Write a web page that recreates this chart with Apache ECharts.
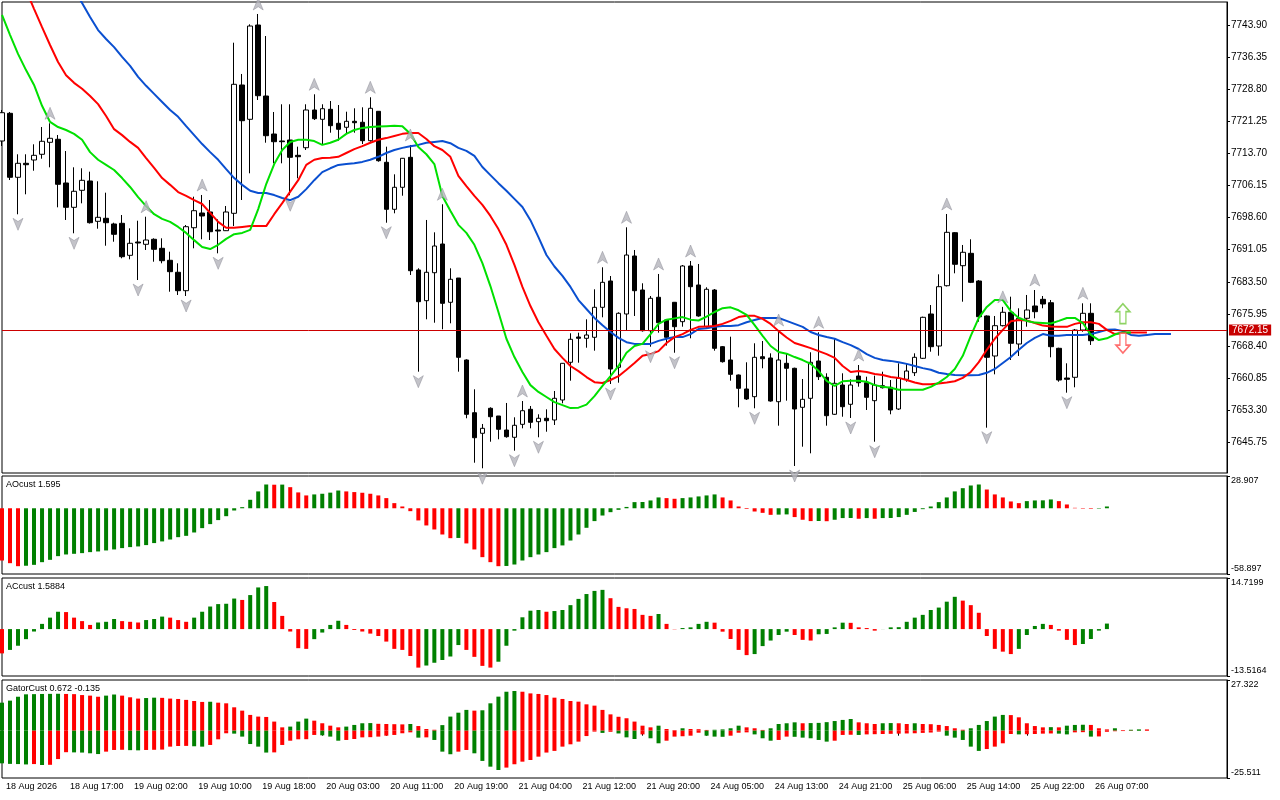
<!DOCTYPE html>
<html><head><meta charset="utf-8">
<script src="https://cdn.jsdelivr.net/npm/echarts@6/dist/echarts.min.js"></script>
<style>html,body{margin:0;padding:0;background:#fff}#c{width:1280px;height:800px}</style>
</head><body><div id="c"></div>
<script>
const timeLabels = ['18 Aug 2026','18 Aug 17:00','19 Aug 02:00','19 Aug 10:00','19 Aug 18:00','20 Aug 03:00','20 Aug 11:00','20 Aug 19:00','21 Aug 04:00','21 Aug 12:00','21 Aug 20:00','24 Aug 05:00','24 Aug 13:00','24 Aug 21:00','25 Aug 06:00','25 Aug 14:00','25 Aug 22:00','26 Aug 07:00'];
const priceTicks = [7645.75,7653.30,7660.85,7668.40,7675.95,7683.50,7691.05,7698.60,7706.15,7713.70,7721.25,7728.80,7736.35,7743.90];
const lastPrice = 7672.15;

const opens = [7716.62,7723.13,7708.08,7711.37,7712.15,7713.49,7716.31,7717.02,7706.74,7701.02,
7705.02,7707.21,7697.73,7698.44,7697.10,7697.26,7689.73,7692.86,7692.32,7693.50,
7691.38,7688.56,7685.74,7681.41,7696.22,7699.68,7699.92,7695.68,7695.52,7699.61,
7729.79,7721.72,7743.90,7727.20,7718.26,7716.62,7716.85,7713.25,7715.04,7723.91,
7721.72,7724.07,7720.78,7719.84,7721.25,7721.02,7716.69,7723.60,7711.61,7700.55,
7705.73,7712.78,7686.28,7679.06,7685.64,7692.39,7678.68,7684.39,7665.11,7652.71,
7647.87,7653.75,7651.94,7648.64,7646.93,7649.98,7653.51,7650.60,7651.40,7651.00,
7655.70,7664.57,7670.52,7670.21,7670.45,7677.50,7683.69,7663.39,7675.93,7689.57,
7681.57,7672.00,7679.86,7674.52,7678.68,7674.12,7687.22,7682.75,7672.94,7681.57,
7668.24,7665.11,7661.58,7658.29,7656.48,7665.88,7665.58,7655.30,7664.33,7663.16,
7653.98,7656.10,7664.87,7661.04,7652.34,7659.23,7654.69,7661.34,7659.77,7655.54,
7659.06,7658.69,7653.58,7660.57,7662.12,7665.51,7675.93,7668.40,7682.58,7695.05,
7687.29,7690.20,7683.69,7675.46,7666.05,7673.18,7676.33,7668.87,7674.92,7677.81,
7679.38,7678.58,7667.86,7660.87,7661.04,7672.16,7676.09];
const highs = [7723.91,7723.44,7713.49,7713.49,7715.84,7719.91,7720.78,7718.03,7714.26,7710.43,
7710.20,7709.40,7707.14,7704.46,7697.40,7699.21,7696.08,7697.87,7698.81,7693.73,
7693.73,7690.58,7687.85,7696.86,7703.52,7703.92,7702.74,7698.20,7701.33,7739.74,
7732.38,7744.06,7746.49,7741.31,7723.44,7725.25,7725.25,7715.28,7725.25,7727.60,
7725.25,7726.02,7725.08,7723.51,7724.31,7724.54,7726.90,7723.67,7715.28,7708.78,
7712.62,7715.68,7686.68,7698.04,7695.14,7701.73,7686.68,7684.39,7665.27,7658.22,
7650.06,7653.98,7651.94,7655.00,7651.63,7655.46,7654.29,7652.34,7653.51,7657.82,
7664.40,7671.39,7671.53,7674.68,7681.74,7686.91,7684.86,7676.33,7696.32,7690.98,
7683.15,7680.16,7685.34,7674.52,7678.75,7687.45,7688.39,7687.69,7682.21,7681.80,
7668.40,7670.59,7661.70,7664.57,7669.04,7669.58,7666.68,7672.16,7666.68,7663.30,
7660.64,7666.92,7671.62,7661.98,7670.21,7661.98,7660.57,7663.93,7661.18,7661.42,
7662.36,7660.40,7664.33,7664.33,7666.68,7675.30,7678.04,7685.26,7699.45,7695.20,
7692.16,7693.50,7683.90,7675.60,7675.46,7677.60,7680.00,7677.27,7680.40,7681.57,
7680.16,7679.22,7668.00,7664.33,7672.40,7678.44,7678.44];
const lows = [7715.44,7707.44,7699.38,7704.08,7709.63,7712.45,7710.43,7701.02,7698.04,7694.91,
7701.96,7697.20,7695.99,7691.99,7692.93,7689.03,7688.79,7683.92,7690.98,7688.23,
7687.85,7681.17,7680.40,7680.16,7691.38,7693.50,7693.33,7690.20,7695.45,7696.62,
7702.74,7709.02,7726.26,7716.22,7711.37,7711.37,7703.85,7707.84,7714.50,7721.56,
7715.68,7718.57,7716.69,7718.26,7718.57,7715.91,7716.45,7711.75,7697.40,7699.61,
7703.75,7685.10,7662.36,7674.68,7673.88,7672.33,7673.74,7662.36,7651.40,7640.95,
7639.64,7645.89,7646.46,7646.83,7643.78,7649.04,7649.04,7646.93,7648.24,7649.82,
7654.92,7660.24,7664.47,7668.00,7667.30,7675.15,7659.46,7659.77,7672.00,7675.46,
7671.80,7668.24,7671.53,7668.50,7666.82,7672.94,7670.21,7675.29,7672.70,7667.30,
7664.50,7660.24,7653.98,7655.70,7653.75,7663.16,7655.30,7649.66,7655.54,7640.18,
7644.72,7643.16,7660.40,7649.66,7652.20,7651.77,7651.47,7658.83,7653.35,7645.89,
7658.40,7652.34,7653.35,7660.00,7661.34,7665.34,7667.06,7666.12,7682.40,7685.50,
7678.82,7683.20,7674.12,7649.19,7661.74,7673.00,7665.11,7666.05,7672.94,7674.92,
7677.27,7665.74,7660.00,7657.42,7658.69,7671.76,7668.64];
const closes = [7723.27,7708.08,7711.37,7711.04,7713.25,7716.55,7717.25,7706.43,7701.02,7704.79,
7707.37,7697.40,7698.67,7697.40,7694.67,7689.40,7692.56,7692.63,7693.33,7691.14,
7688.46,7685.88,7681.41,7696.46,7700.22,7698.98,7695.28,7695.45,7699.92,7729.95,
7721.39,7743.66,7727.27,7717.86,7716.45,7716.45,7712.78,7712.92,7723.91,7721.86,
7724.21,7720.22,7719.37,7721.25,7720.92,7716.69,7724.31,7711.98,7700.55,7705.73,
7712.55,7686.11,7678.82,7685.74,7691.92,7678.44,7684.09,7665.74,7652.34,7646.83,
7649.04,7651.77,7648.81,7647.07,7649.75,7653.18,7650.45,7651.40,7650.83,7656.10,
7664.33,7669.98,7670.21,7670.99,7677.50,7683.38,7662.99,7676.09,7689.80,7681.41,
7672.00,7679.62,7673.88,7670.45,7672.94,7687.22,7682.35,7675.46,7681.74,7667.86,
7664.71,7661.74,7658.45,7655.94,7665.74,7665.41,7655.46,7665.11,7663.16,7653.58,
7655.86,7664.57,7661.18,7652.01,7659.63,7654.12,7659.23,7659.77,7656.33,7659.23,
7658.59,7653.35,7660.80,7662.52,7665.74,7675.15,7668.24,7682.35,7695.14,7687.62,
7690.44,7683.38,7675.29,7665.74,7673.18,7676.33,7669.04,7674.92,7676.87,7676.47,
7678.28,7668.24,7660.40,7660.57,7672.16,7676.09,7669.65];

const jaw = [7779.7,7776.6,7773.5,7770.5,7767.4,7764.4,7761.3,7758.2,7755.2,7752.1,
7749.1,7745.8,7742.7,7740.6,7738.7,7736.4,7734.3,7731.7,7729.6,7727.7,
7725.8,7723.9,7722.3,7720.1,7718.0,7715.9,7714.0,7712.2,7710.0,7707.9,
7706.3,7704.9,7704.4,7704.4,7703.9,7703.2,7702.7,7703.5,7705.3,7707.4,
7709.3,7710.2,7711.0,7711.2,7711.4,7711.7,7712.2,7712.9,7713.8,7714.5,
7715.0,7715.4,7715.7,7716.2,7716.4,7716.6,7716.1,7715.0,7714.3,7713.1,
7710.5,7708.6,7706.7,7704.9,7703.0,7701.1,7698.0,7694.0,7689.8,7687.1,
7684.9,7682.3,7679.2,7677.1,7675.0,7673.3,7671.7,7670.3,7669.3,7668.9,
7668.9,7668.9,7669.6,7670.1,7670.5,7670.5,7671.2,7672.4,7672.6,7672.9,
7673.1,7673.1,7673.3,7674.0,7674.5,7675.0,7675.0,7675.0,7674.3,7673.6,
7672.9,7671.7,7671.0,7670.5,7670.1,7669.3,7668.6,7667.7,7666.5,7665.6,
7665.1,7664.9,7664.6,7664.2,7663.7,7663.2,7662.8,7662.1,7661.8,7661.6,
7661.5,7661.5,7661.6,7662.1,7663.0,7664.4,7665.8,7667.5,7669.1,7670.3,
7671.2,7670.8,7670.8,7671.0,7671.0,7671.0,7671.2,7671.7,7672.2,7672.3,
7671.9,7671.0,7670.8,7671.0,7671.2,7671.2,7671.2];
const teeth = [7764.8,7760.6,7756.4,7752.1,7747.7,7743.4,7739.2,7735.2,7732.1,7730.3,
7728.9,7727.2,7725.3,7722.5,7719.4,7718.0,7716.4,7715.0,7712.6,7710.3,
7707.9,7706.3,7704.6,7703.7,7702.7,7701.8,7699.7,7697.6,7696.2,7696.2,
7696.4,7696.6,7696.6,7696.6,7699.4,7702.0,7704.7,7707.4,7711.0,7712.2,
7712.6,7712.7,7712.9,7713.8,7714.7,7715.4,7716.2,7716.9,7717.3,7717.8,
7718.3,7718.5,7718.5,7717.1,7715.4,7714.5,7712.9,7708.4,7706.0,7703.7,
7701.6,7699.0,7695.9,7692.2,7687.5,7682.3,7677.8,7674.0,7670.8,7667.7,
7665.6,7663.7,7662.5,7661.1,7659.9,7659.7,7660.4,7661.3,7662.8,7664.4,
7666.1,7666.5,7667.2,7669.1,7670.5,7671.2,7672.2,7672.9,7673.0,7673.1,
7673.6,7674.3,7675.2,7675.5,7675.5,7674.8,7673.6,7671.9,7670.4,7669.1,
7668.5,7667.9,7667.2,7666.5,7665.6,7663.7,7662.3,7662.5,7662.3,7661.8,
7661.6,7661.1,7660.9,7660.4,7659.8,7659.4,7659.4,7659.6,7659.8,7660.1,
7660.9,7662.3,7664.6,7667.5,7670.1,7672.2,7674.2,7674.5,7674.4,7673.8,
7673.2,7673.0,7672.9,7672.9,7673.6,7674.0,7674.0,7673.6,7672.2,7671.2,
7671.5,7671.6,7671.6,7671.6];
const lips = [7746.3,7741.6,7737.1,7733.3,7729.8,7724.9,7721.1,7719.9,7719.2,7718.3,
7716.9,7714.0,7712.2,7711.0,7709.8,7707.9,7705.8,7703.4,7701.3,7699.4,
7698.3,7697.6,7696.4,7695.0,7693.3,7691.7,7691.2,7692.2,7693.6,7694.7,
7695.0,7695.7,7700.6,7706.5,7711.2,7714.5,7716.4,7716.9,7716.9,7716.6,
7715.7,7716.2,7716.9,7718.3,7719.2,7719.7,7719.9,7720.0,7720.1,7720.2,
7720.1,7718.3,7715.2,7713.5,7711.2,7703.7,7700.2,7696.9,7695.0,7692.2,
7687.9,7682.5,7676.4,7670.1,7665.8,7662.3,7659.2,7657.6,7656.4,7655.2,
7654.5,7653.8,7653.9,7654.6,7656.6,7659.0,7661.3,7663.7,7666.8,7668.4,
7668.9,7671.2,7673.6,7674.6,7674.9,7675.2,7674.6,7674.4,7675.3,7676.4,
7677.3,7677.5,7676.8,7675.7,7673.3,7670.8,7668.4,7667.0,7666.6,7665.8,
7665.1,7664.2,7662.5,7660.2,7659.0,7660.1,7660.2,7660.2,7660.0,7659.2,
7658.8,7658.6,7658.1,7658.1,7658.1,7658.1,7658.8,7659.8,7661.1,7663.0,
7666.1,7670.8,7675.0,7677.6,7679.2,7679.2,7676.6,7675.0,7674.3,7673.9,
7673.8,7673.7,7674.3,7675.0,7675.0,7673.8,7671.0,7669.8,7670.2,7671.1,
7671.6,7671.6];

const fractalUp = [6,18,25,32,39,46,51,55,65,75,78,82,86,97,102,107,118,125,129,135];
const fractalDown = [2,9,17,23,27,36,48,52,60,64,67,76,81,84,94,99,106,109,123,133];
const signalUp = [140, 7676.0];
const signalDown = [140, 7669.1];

const aoValues = [-46.8,-49.2,-51.9,-51.5,-50.7,-48.3,-46.2,-42.9,-41.4,-40.8,
-40.2,-39.3,-38.7,-37.8,-36.9,-35.7,-34.8,-34.2,-33.0,-31.2,
-29.7,-28.0,-25.9,-24.7,-21.7,-17.8,-14.2,-10.6,-7.1,-2.0,
1.0,7.6,15.1,21.3,21.1,21.2,18.9,14.2,11.5,12.4,
13.0,14.0,15.9,15.1,14.5,13.9,13.0,11.5,9.1,4.6,
1.6,-2.6,-10.9,-15.4,-19.0,-23.5,-26.8,-26.6,-31.5,-36.9,
-43.8,-48.3,-51.9,-51.7,-50.4,-46.8,-43.8,-41.4,-39.3,-35.7,
-33.3,-28.9,-23.5,-17.5,-11.5,-6.5,-3.5,-1.4,1.2,5.5,
5.6,7.0,9.7,9.1,8.5,9.1,9.7,10.6,11.5,12.4,
9.7,7.0,1.6,-0.6,-2.9,-4.1,-5.9,-5.7,-5.5,-7.9,
-10.3,-11.5,-11.4,-11.6,-10.3,-8.8,-8.7,-9.4,-8.8,-9.4,
-8.8,-8.7,-7.9,-5.9,-3.3,-0.8,1.6,5.5,9.7,15.1,
18.0,20.4,21.3,16.8,12.4,9.7,6.1,4.6,6.4,7.0,
7.1,7.9,6.4,3.4,0.4,-0.4,-0.5,-0.4,1.595];
const acValues = [-7.0,-6.0,-4.8,-2.9,-0.7,1.5,3.3,5.0,4.9,3.3,
2.3,1.2,1.9,2.1,2.9,2.3,2.1,1.9,2.6,2.9,
3.6,3.3,2.6,2.1,3.3,5.0,6.5,7.2,7.3,8.8,
8.4,9.8,12.0,12.4,7.8,3.8,-0.7,-5.5,-5.7,-2.9,
-1.0,1.2,2.4,1.2,-0.26,-0.7,-1.3,-2.0,-3.6,-5.7,
-6.0,-7.75,-11.1,-10.5,-9.7,-8.9,-7.9,-4.6,-6.0,-8.0,
-10.6,-11.1,-9.4,-4.8,-0.45,3.4,5.3,5.5,5.0,5.2,
5.5,6.9,8.7,10.1,11.0,11.3,8.9,6.4,6.0,5.8,
4.1,3.8,4.35,1.5,-0.07,0.3,0.5,1.5,2.1,1.85,
-0.74,-2.85,-6.0,-7.5,-7.2,-4.9,-3.3,-1.7,-0.74,-1.7,
-3.1,-3.3,-1.5,-1.4,0.5,1.85,1.8,0.5,0.3,-0.45,
0.03,0.5,0.55,2.1,3.3,4.1,5.5,6.2,7.9,9.3,
8.2,6.9,4.7,-2.0,-5.7,-6.5,-7.2,-5.7,-1.7,0.9,
1.5,1.2,-0.45,-3.1,-4.6,-4.3,-2.85,-0.45,1.5884];
const gatorUpper = [15.1,16.2,18.3,19.6,19.7,19.8,19.85,19.9,19.8,19.7,
19.2,18.9,18.3,18.9,19.5,18.9,18.0,17.3,17.6,17.8,
17.7,17.3,17.1,16.6,16.0,15.5,15.6,15.1,14.75,12.6,
10.8,8.5,7.6,7.4,4.9,1.8,2.2,4.9,6.5,5.4,
4.0,2.7,1.8,2.2,3.1,4.0,4.1,3.7,3.6,3.5,
3.4,3.6,2.5,0.9,0.5,3.0,7.6,9.7,11.2,10.8,
11.0,14.75,18.35,21.0,21.4,21.0,20.1,19.8,19.2,17.8,
17.1,16.0,15.65,14.2,13.5,11.2,8.8,7.5,6.7,4.9,
2.7,1.8,2.7,0.9,0.3,1.3,0.9,0.8,0.4,0.5,
0.7,1.3,2.7,1.8,1.3,0.4,1.3,3.6,4.0,4.5,
4.0,4.1,4.2,4.6,5.2,5.8,6.3,4.5,4.0,3.6,
4.0,4.1,4.0,3.6,4.0,3.6,3.5,3.1,2.5,1.3,
0.5,1.3,3.1,5.2,7.6,8.5,8.4,7.2,4.0,2.5,
1.8,1.9,1.8,2.7,3.1,3.2,3.1,1.3,0.7,1.3,
0.3,0.5,0.7,0.672];
const gatorLower = [-17.6,-17.9,-18.0,-18.2,-18.0,-18.5,-18.4,-15.3,-11.6,-11.7,
-11.8,-12.2,-12.6,-11.3,-10.4,-10.3,-10.5,-10.6,-10.4,-10.3,
-10.2,-8.6,-8.25,-8.2,-8.4,-8.6,-7.7,-4.65,-1.4,-1.6,
-3.2,-7.2,-8.6,-11.8,-11.7,-7.7,-5.4,-4.65,-4.6,-2.3,
-2.5,-3.2,-5.4,-5.0,-4.5,-3.6,-3.5,-3.2,-2.7,-2.3,
-1.4,-0.9,-3.75,-3.6,-5.0,-11.3,-12.7,-11.3,-10.4,-12.2,
-16.3,-19.4,-21.2,-19.9,-18.1,-16.7,-15.8,-14.0,-11.8,-10.9,
-8.6,-7.35,-5.9,-2.9,-0.5,-1.2,-0.6,-1.5,-3.6,-4.5,
-2.0,-4.1,-6.8,-5.4,-3.2,-3.0,-2.7,-1.1,-2.7,-3.2,
-3.3,-2.7,-1.1,-0.9,-2.0,-4.1,-5.4,-5.0,-3.2,-3.3,
-3.75,-4.1,-5.0,-5.9,-5.4,-2.3,-2.2,-2.3,-2.0,-1.9,
-1.8,-1.7,-1.6,-1.5,-1.4,-1.2,-1.0,-0.5,-2.7,-3.75,
-5.0,-8.6,-10.9,-9.9,-8.6,-6.8,-1.8,-2.0,-1.9,-1.8,
-1.6,-1.5,-1.6,-2.0,-0.9,-0.8,-3.2,-3.1,-0.6,-0.3,
-0.2,-0.1,-0.14,-0.135];

const aoRange = [-58.897, 28.907];
const acRange = [-13.5164, 14.7199];
const gatorRange = [-25.511, 27.322];
const priceRange = [7638.53, 7749.31];

// ---------- build options ----------
const N = 154;
const cats = Array.from({length: N}, (_, i) => String(i));
const FONT = '"Liberation Sans", Arial, sans-serif';
const GREEN = '#008000', RED = '#ff0000';

function colorByPrev(vals, firstColor) {
  return vals.map((v, i) => ({value: v, itemStyle: {color: i === 0 ? firstColor : (v > vals[i - 1] ? GREEN : RED)}}));
}
function colorByAbsPrev(vals, firstColor) {
  return vals.map((v, i) => ({value: v, itemStyle: {color: i === 0 ? firstColor : (Math.abs(v) > Math.abs(vals[i - 1]) ? GREEN : RED)}}));
}
const candleData = opens.map((o, i) => [o, closes[i], lows[i], highs[i]]);

const gridBase = {left: 2, right: 53, show: true, borderColor: '#000', borderWidth: 1, backgroundColor: 'transparent'};
const grids = [
  Object.assign({top: 2, height: 471}, gridBase),
  Object.assign({top: 476, height: 98}, gridBase),
  Object.assign({top: 578, height: 98}, gridBase),
  Object.assign({top: 680, height: 98}, gridBase)
];
const tickShow = (idx) => idx % 8 === 0 && idx / 8 < timeLabels.length;
const xAxes = grids.map((g, i) => ({
  type: 'category', gridIndex: i, data: cats, boundaryGap: false,
  axisLine: {show: false},
  axisTick: i === 3 ? {show: true, interval: tickShow, length: 5, lineStyle: {color: '#000'}} : {show: false},
  axisLabel: i === 3 ? {
    show: true, interval: tickShow, align: 'left', margin: 4, padding: [0, 0, 0, 4],
    fontSize: 9, color: '#000', fontFamily: FONT,
    formatter: (v, idx) => (idx % 8 === 0 ? (timeLabels[idx / 8] || '') : '')
  } : {show: false},
  splitLine: {show: false}
}));

function paneAxis(gi, range, dec) {
  return {
    type: 'value', gridIndex: gi, position: 'right', min: range[0], max: range[1],
    axisLine: {show: true, lineStyle: {color: '#000'}},
    axisTick: {show: true, customValues: range, length: 3, lineStyle: {color: '#000'}},
    axisLabel: {
      customValues: range, margin: 4, fontSize: 9, color: '#000', fontFamily: FONT,
      formatter: (v) => (v > 0 ? '{t|' + v.toFixed(dec) + '}' : '{b|' + v.toFixed(dec) + '}'),
      rich: {
        t: {padding: [10, 0, 0, 0], fontSize: 9, color: '#000', fontFamily: FONT},
        b: {padding: [0, 0, 10, 0], fontSize: 9, color: '#000', fontFamily: FONT}
      }
    },
    splitLine: {show: false}
  };
}
const yAxes = [
  {
    type: 'value', gridIndex: 0, position: 'right', min: priceRange[0], max: priceRange[1],
    axisLine: {show: true, lineStyle: {color: '#000'}},
    axisTick: {show: true, customValues: priceTicks, length: 3, lineStyle: {color: '#000'}},
    axisLabel: {customValues: priceTicks, margin: 4, fontSize: 10, color: '#000', fontFamily: FONT, formatter: (v) => v.toFixed(2)},
    splitLine: {show: false}
  },
  paneAxis(1, aoRange, 3),
  paneAxis(2, acRange, 4),
  paneAxis(3, gatorRange, 3)
];

const titleStyle = {fontSize: 9, fontWeight: 'normal', color: '#000', fontFamily: FONT};
const lastOf = (a) => a[a.length - 1];
const titles = [
  {text: 'AOcust ' + lastOf(aoValues).toFixed(3), left: 6, top: 480, padding: 0, textStyle: titleStyle},
  {text: 'ACcust ' + lastOf(acValues).toFixed(4), left: 6, top: 582, padding: 0, textStyle: titleStyle},
  {text: 'GatorCust ' + lastOf(gatorUpper).toFixed(3) + ' ' + lastOf(gatorLower).toFixed(3), left: 6, top: 684, padding: 0, textStyle: titleStyle}
];

const upArrowPath = 'path://M5,0 L10,11 L5,8 L0,11 Z';
const downArrowPath = 'path://M0,0 L5,3 L10,0 L5,11 Z';
const blockUp = 'path://M7,0 L14,8 L10,8 L10,20 L4,20 L4,8 L0,8 Z';
const blockDown = 'path://M4,0 L10,0 L10,12 L14,12 L7,20 L0,12 L4,12 Z';

const option = {
  animation: false,
  backgroundColor: '#ffffff',
  title: titles,
  grid: grids,
  xAxis: xAxes,
  yAxis: yAxes,
  series: [
    {
      type: 'candlestick', xAxisIndex: 0, yAxisIndex: 0, data: candleData, barWidth: 5,
      itemStyle: {color: '#ffffff', color0: '#000000', borderColor: '#000000', borderColor0: '#000000', borderWidth: 1},
      markLine: {
        silent: true, symbol: ['none', 'none'], animation: false,
        data: [{yAxis: lastPrice}],
        lineStyle: {color: '#cc0000', width: 1, type: 'solid'},
        label: {show: true, position: 'end', distance: 2, formatter: () => lastPrice.toFixed(2),
          backgroundColor: '#c80000', color: '#ffffff', fontSize: 10, fontFamily: FONT, padding: [1, 3, 0, 3]}
      },
      z: 2
    },
    {type: 'line', xAxisIndex: 0, yAxisIndex: 0, data: jaw, showSymbol: false, symbol: 'none', lineStyle: {color: '#0a4fd0', width: 2}, z: 3},
    {type: 'line', xAxisIndex: 0, yAxisIndex: 0, data: teeth, showSymbol: false, symbol: 'none', lineStyle: {color: '#ff0000', width: 2}, z: 3},
    {type: 'line', xAxisIndex: 0, yAxisIndex: 0, data: lips, showSymbol: false, symbol: 'none', lineStyle: {color: '#00e000', width: 2}, z: 3},
    {type: 'scatter', xAxisIndex: 0, yAxisIndex: 0, data: fractalUp.map(i => [i, highs[i]]), symbol: upArrowPath, symbolSize: [10, 12], symbolOffset: [0, -10],
      itemStyle: {color: '#b4b4bc', borderColor: '#8a8a94', borderWidth: 0.6}, z: 4},
    {type: 'scatter', xAxisIndex: 0, yAxisIndex: 0, data: fractalDown.map(i => [i, lows[i]]), symbol: downArrowPath, symbolSize: [10, 12], symbolOffset: [0, 10],
      itemStyle: {color: '#b4b4bc', borderColor: '#8a8a94', borderWidth: 0.6}, z: 4},
    {type: 'scatter', xAxisIndex: 0, yAxisIndex: 0, data: [signalUp], symbol: blockUp, symbolSize: [14, 20],
      itemStyle: {color: '#ffffff', borderColor: '#72c83c', borderWidth: 1.5}, z: 5},
    {type: 'scatter', xAxisIndex: 0, yAxisIndex: 0, data: [signalDown], symbol: blockDown, symbolSize: [14, 20],
      itemStyle: {color: '#ffffff', borderColor: '#ff4a4a', borderWidth: 1.5}, z: 5},
    {type: 'bar', xAxisIndex: 1, yAxisIndex: 1, data: colorByPrev(aoValues, RED), barWidth: 4},
    {type: 'bar', xAxisIndex: 2, yAxisIndex: 2, data: colorByPrev(acValues, RED), barWidth: 4},
    {type: 'bar', xAxisIndex: 3, yAxisIndex: 3, data: colorByAbsPrev(gatorUpper, GREEN), barWidth: 4, barGap: '-100%'},
    {type: 'bar', xAxisIndex: 3, yAxisIndex: 3, data: colorByAbsPrev(gatorLower, GREEN), barWidth: 4, barGap: '-100%'}
  ]
};
const chart = echarts.init(document.getElementById('c'), null, {renderer: 'canvas'});
chart.setOption(option);
</script>
</body></html>
